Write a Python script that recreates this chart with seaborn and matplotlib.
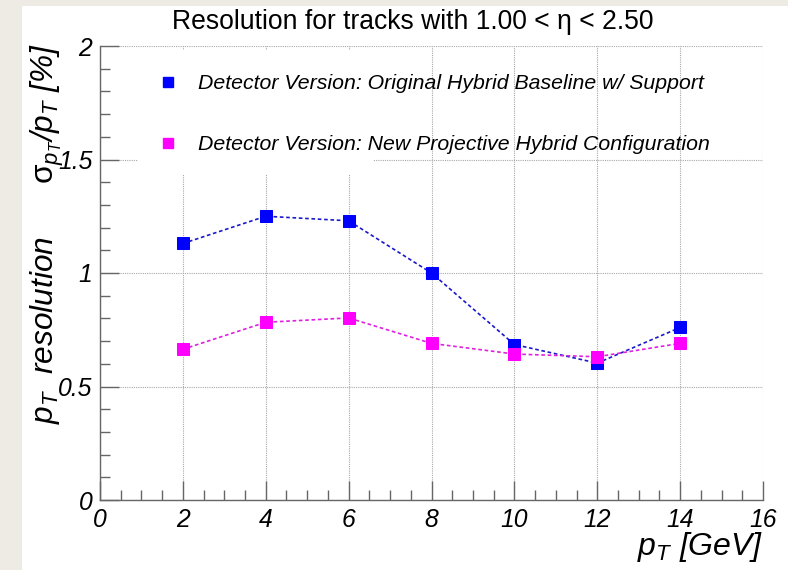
import matplotlib
matplotlib.use('Agg')
import numpy as np
import pandas as pd
import matplotlib.pyplot as plt
import seaborn as sns
from matplotlib.lines import Line2D
from matplotlib.patches import Rectangle
from matplotlib.ticker import MultipleLocator

# values
pt_bins = [2, 4, 6, 8, 10, 12, 14]
res_baseline = [1.13, 1.25, 1.23, 1.00, 0.685, 0.603, 0.76]
res_projective = [0.664, 0.783, 0.802, 0.690, 0.643, 0.631, 0.690]
series_names = ['Detector Version: Original Hybrid Baseline w/ Support',
                'Detector Version: New Projective Hybrid Configuration']
x_ticks = [0, 2, 4, 6, 8, 10, 12, 14, 16]
y_ticks = [0, 0.5, 1, 1.5, 2]
y_tick_labels = ['0', '0.5', '1', '1.5', '2']

marker_colors = ['#0000ff', '#ff00ff']
line_colors = ['#1a1acc', '#e020e0']

df = pd.DataFrame({
    'pt': pt_bins * 2,
    'res': res_baseline + res_projective,
    'version': [series_names[0]] * len(pt_bins) + [series_names[1]] * len(pt_bins),
})

sns.set_style('white')
plt.rcParams['font.family'] = ['Liberation Sans', 'DejaVu Sans']
plt.rcParams['text.color'] = 'black'
plt.rcParams['mathtext.fontset'] = 'custom'
plt.rcParams['mathtext.it'] = 'Liberation Sans:italic'
plt.rcParams['mathtext.rm'] = 'Liberation Sans'
plt.rcParams['mathtext.bf'] = 'Liberation Sans:bold'

W, H = 788, 570
fig = plt.figure(figsize=(W / 100, H / 100), dpi=100, facecolor='#eeebe4')
fig.patches.append(Rectangle((22 / W, 0), 1, (H - 6) / H, transform=fig.transFigure,
                             facecolor='white', edgecolor='none', zorder=-5))
ax = fig.add_axes([100 / W, 1 - 500 / H, 663 / W, 454 / H])
ax.set_facecolor('white')

for name, mc, lc in zip(series_names, marker_colors, line_colors):
    sub = df[df['version'] == name]
    sns.lineplot(data=sub, x='pt', y='res', ax=ax, color=lc, lw=1.2,
                 linestyle=(0, (2.2, 1.6)), marker='s', markersize=9,
                 markerfacecolor=mc, markeredgecolor=mc, legend=False, zorder=3)

ax.set_xlim(0, 16)
ax.set_ylim(0, 2)
ax.xaxis.set_minor_locator(MultipleLocator(0.5))
ax.yaxis.set_minor_locator(MultipleLocator(0.1))
ax.set_xlabel('')
ax.set_ylabel('')

ax.set_axisbelow(True)
ax.grid(True, which='major', color='#a8a8a8', linestyle=(0, (1, 1)), lw=0.8)

for side in ['top', 'right']:
    ax.spines[side].set_visible(False)
for side in ['left', 'bottom']:
    ax.spines[side].set_color('#666666')
    ax.spines[side].set_linewidth(1.0)

ax.tick_params(which='major', direction='in', length=13.5, width=1.0, color='#666666',
               labelcolor='black', pad=5.5,
               bottom=True, left=True, top=False, right=False)
ax.tick_params(which='minor', direction='in', length=7, width=1.0, color='#666666',
               bottom=True, left=True, top=False, right=False)

# italic tick labels, like the ROOT axis labels
ax.set_xticks(x_ticks)
ax.set_yticks(y_ticks)
ax.set_xticklabels([str(v) for v in x_ticks], fontstyle='italic', fontsize=17.8)
ax.set_yticklabels(y_tick_labels, fontstyle='italic', fontsize=17.8)

# white legend pad that hides the grid behind the legend (as in the original)
ax.add_patch(Rectangle((0.91, 1.432), 5.68, 0.55, facecolor='white',
                       edgecolor='none', zorder=1))

handles = [Line2D([], [], marker='s', ls='none', markersize=7.5,
                  markerfacecolor=c, markeredgecolor=c) for c in marker_colors]
leg = ax.legend(handles, series_names, loc='upper left',
                bbox_to_anchor=(157 / W, 1 - 74 / H), bbox_transform=fig.transFigure,
                frameon=False, prop={'style': 'italic', 'size': 15.3},
                handlelength=1.0, handletextpad=0.95, labelspacing=1.98,
                borderpad=0, borderaxespad=0)
for t in leg.get_texts():
    t.set_color('black')

fig.text(413 / W, 1 - 22 / H, 'Resolution for tracks with 1.00 < η < 2.50',
         ha='center', va='center', fontsize=19.1)
fig.text(47 / W, 1 - 43 / H,
         r'$p_{T}$  resolution      $\mathrm{\sigma}_{p_{T}}$/$p_{T}$ [%]',
         rotation=90, ha='center', va='top', fontsize=22.8, style='italic')
fig.text(763 / W, 1 - 547 / H, r'$p_{T}$ [GeV]', ha='right', va='center',
         fontsize=23, style='italic')

fig.savefig('out.png', dpi=100, facecolor=fig.get_facecolor())
